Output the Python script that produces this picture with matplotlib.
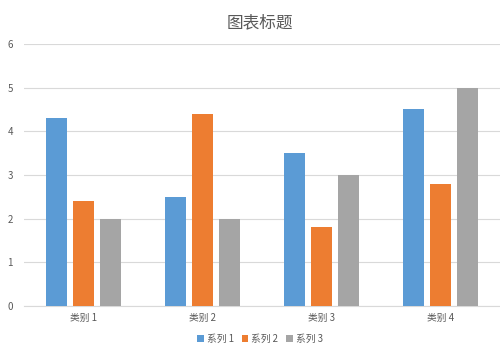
import numpy as np
import matplotlib.pyplot as plt

plt.rcParams['font.family'] = ['Noto Sans CJK SC', 'DejaVu Sans']

categories = ['类别 1', '类别 2', '类别 3', '类别 4']
series_names = ['系列 1', '系列 2', '系列 3']
series1 = [4.3, 2.5, 3.5, 4.5]
series2 = [2.4, 4.4, 1.8, 2.8]
series3 = [2, 2, 3, 5]
colors = ['#5B9BD5', '#ED7D31', '#A5A5A5']

fig = plt.figure(figsize=(5, 3.51), dpi=100)
ax = fig.add_axes([0.048, 0.128, 0.952, 0.747])

x = np.arange(len(categories))
w = 0.177
step = 0.227
for i, (vals, name) in enumerate(zip([series1, series2, series3], series_names)):
    ax.bar(x + (i - 1) * step, vals, width=w, color=colors[i], label=name, zorder=3)

ax.set_xlim(-0.5, 3.5)
ax.set_ylim(0, 6)
ax.set_yticks(range(7))
ax.set_xticks(x)
ax.set_xticklabels(categories)
ax.yaxis.grid(True, color='#D9D9D9', linewidth=0.8, zorder=0)
for s in ['top', 'right', 'left']:
    ax.spines[s].set_visible(False)
ax.spines['bottom'].set_color('#D9D9D9')
ax.tick_params(axis='both', length=0, labelsize=7, colors='#595959')
ax.tick_params(axis='x', pad=5)
ax.tick_params(axis='y', pad=8)

fig.text(0.52, 0.935, '图表标题', ha='center', va='center', fontsize=12, color='#595959')
fig.legend(loc='center', bbox_to_anchor=(0.52, 0.035), ncol=3, frameon=False,
           fontsize=7, handlelength=0.7, handleheight=0.7, handletextpad=0.3,
           columnspacing=0.8, labelcolor='#595959')

fig.savefig('out.png')
